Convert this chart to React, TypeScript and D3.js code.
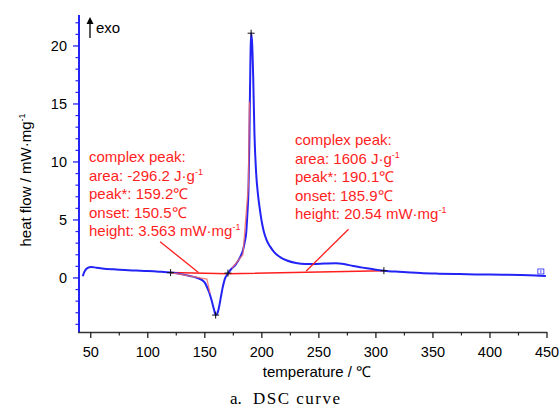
import React from 'react';
import * as d3 from 'd3';

// DSC curve, temperature (°C) vs heat flow (mW/mg)
const temps = [43, 44.5, 47, 50.5, 55, 60, 70, 80, 90, 100, 110, 120, 128, 137, 143, 147.3, 150, 152, 154, 156,
  158, 159.5, 161, 162.5, 164, 165.5, 167.5, 170, 173, 177, 181, 183.5, 185, 186.3, 187.3, 188.3, 189.1, 189.6,
  190.1, 190.6, 191.5, 192.5, 193.5, 195, 196.5, 198, 200, 201.5, 204, 207.3, 211, 216, 222, 230, 238, 245, 255,
  265, 272, 280, 286, 292, 300, 307, 317, 327, 339, 355, 370, 380, 400, 427, 440, 449];
const heatFlow = [0.15, 0.55, 0.85, 0.95, 0.88, 0.82, 0.74, 0.68, 0.64, 0.6, 0.54, 0.46, 0.35, 0.17, 0.02, -0.17,
  -0.4, -0.8, -1.3, -1.95, -2.7, -3.2, -3.05, -2.5, -1.7, -0.9, -0.1, 0.35, 0.75, 1.15, 1.8, 2.4, 3.1, 3.9, 5.5,
  7.6, 11.9, 16, 19.5, 21.1, 20.2, 17, 12.5, 9.05, 7.3, 6.1, 4.8, 4.1, 3.3, 2.7, 2.2, 1.8, 1.5, 1.28, 1.2, 1.2,
  1.24, 1.27, 1.2, 1.03, 0.93, 0.83, 0.71, 0.63, 0.55, 0.49, 0.42, 0.37, 0.34, 0.32, 0.29, 0.26, 0.22, 0.17];

// evaluation lines drawn by the instrument software
const baselineT = [120, 170.3, 307];
const baselineH = [0.47, 0.36, 0.62];
const endoTangentT = [120, 151.8, 154.6];
const endoTangentH = [0.46, -0.1, -1.3];
const exoTangentT = [173.7, 183.4, 188.2, 189.1];
const exoTangentH = [0.83, 2.0, 8, 15.2];
const markerT = [120, 170.3, 159.5, 190.6, 307];
const markerH = [0.46, 0.42, -3.2, 21.1, 0.63];

// leader lines from the labels to the baseline
const endoLeaderT = [110.8, 144.4];
const endoLeaderH = [3.13, 0.46];
const exoLeaderT = [276, 238.9];
const exoLeaderH = [4.2, 0.6];

const endoLabel = ['complex peak:', 'area: -296.2 J·g', 'peak*: 159.2℃', 'onset: 150.5℃', 'height: 3.563 mW·mg'];
const exoLabel = ['complex peak:', 'area: 1606 J·g', 'peak*: 190.1℃', 'onset: 185.9℃', 'height: 20.54 mW·mg'];
const supLines = [1, 4]; // lines that end with a "-1" exponent

const xMajor = [50, 100, 150, 200, 250, 300, 350, 400, 450];
const yMajor = [0, 5, 10, 15, 20];

const W = 560, H = 409;
const blue = '#2323f5';
const red = '#ff1e1e';
const sans = '"Liberation Sans", Arial, sans-serif';

export default function App() {
  const x = d3.scaleLinear().domain([39.7, 450]).range([79, 547]);
  const y = d3.scaleLinear().domain([-4.66, 22.67]).range([332, 15]);

  const pts = temps.map((t, i) => [t, heatFlow[i]] as [number, number]);
  const line = d3.line<[number, number]>().x(d => x(d[0])).y(d => y(d[1]));
  const curve = d3.line<[number, number]>().x(d => x(d[0])).y(d => y(d[1])).curve(d3.curveMonotoneX);
  const zip = (a: number[], b: number[]) => a.map((v, i) => [v, b[i]] as [number, number]);

  const xMinor = d3.range(75, 450, 50);
  const yMinor = d3.range(-4, 23, 1).filter(v => v % 5 !== 0);
  const last = pts[pts.length - 1];

  const label = (lines: string[], x0: number, y0: number) => (
    <text fontFamily={sans} fontSize={15} fill={red}>
      {lines.map((s, i) => (
        <tspan key={i} x={x0} y={y0 + i * 18.5}>
          {s}
          {supLines.includes(i) && <tspan dy={-6} fontSize={9}>-1</tspan>}
        </tspan>
      ))}
    </text>
  );

  return (
    <svg width={W} height={H} style={{ position: 'absolute', left: 0, top: 0, background: '#fff' }}>
      {/* y axis */}
      <line x1={79} x2={79} y1={15} y2={332} stroke={blue} strokeWidth={2} />
      {yMajor.map(v => (
        <g key={v}>
          <line x1={73} x2={79} y1={y(v)} y2={y(v)} stroke={blue} strokeWidth={1.3} />
          <text x={67} y={y(v)} dy="0.35em" textAnchor="end" fontFamily={sans} fontSize={14.5}>{v}</text>
        </g>
      ))}
      {yMinor.map(v => <line key={v} x1={75.5} x2={79} y1={y(v)} y2={y(v)} stroke={blue} strokeWidth={1.2} />)}

      {/* x axis */}
      <line x1={78} x2={547} y1={332.5} y2={332.5} stroke="#333" strokeWidth={1.5} />
      {xMajor.map(v => (
        <g key={v}>
          <line x1={x(v)} x2={x(v)} y1={332} y2={338} stroke="#222" strokeWidth={1.3} />
          <text x={x(v)} y={357} textAnchor="middle" fontFamily={sans} fontSize={14.5}>{v}</text>
        </g>
      ))}
      {xMinor.map(v => <line key={v} x1={x(v)} x2={x(v)} y1={332} y2={335.5} stroke="#222" strokeWidth={1.2} />)}

      <text x={317} y={377} textAnchor="middle" fontFamily={sans} fontSize={15}>temperature / ℃</text>
      <text transform="translate(31,180) rotate(-90)" textAnchor="middle" fontFamily={sans} fontSize={15}>
        heat flow / mW·mg<tspan dy={-6} fontSize={9}>-1</tspan>
      </text>

      {/* exo arrow */}
      <line x1={90} x2={90} y1={21} y2={38} stroke="#000" strokeWidth={1.3} />
      <path d="M86.5,24 L90,17 L93.5,24 Z" fill="#000" />
      <text x={96} y={33} fontFamily={sans} fontSize={15}>exo</text>

      {/* baseline + tangent construction */}
      <path d={line(zip(baselineT, baselineH)) || ''} fill="none" stroke={red} strokeWidth={1.3} />
      <path d={curve(pts) || ''} fill="none" stroke={blue} strokeWidth={2} />
      <path d={line(zip(endoTangentT, endoTangentH)) || ''} fill="none" stroke="#f26a6a" strokeWidth={1.3} opacity={0.85} />
      <path d={line(zip(exoTangentT, exoTangentH)) || ''} fill="none" stroke="#f26a6a" strokeWidth={1.3} opacity={0.85} />

      {/* leader lines */}
      <path d={line(zip(endoLeaderT, endoLeaderH)) || ''} fill="none" stroke={red} strokeWidth={1.3} />
      <path d={line(zip(exoLeaderT, exoLeaderH)) || ''} fill="none" stroke={red} strokeWidth={1.3} />

      {/* evaluation markers */}
      {markerT.map((t, i) => (
        <path key={i} d={`M${x(t) - 3.5},${y(markerH[i])}h7M${x(t)},${y(markerH[i]) - 3.5}v7`} stroke="#111" strokeWidth={1} />
      ))}
      <rect x={x(last[0]) - 8} y={y(last[1]) - 7} width={6} height={5} fill="none" stroke={blue} strokeWidth={0.8} />
      <line x1={x(last[0]) - 5} x2={x(last[0]) - 5} y1={y(last[1]) - 6} y2={y(last[1]) - 3} stroke={blue} strokeWidth={0.8} />

      {label(endoLabel, 89, 162)}
      {label(exoLabel, 295, 145)}

      {/* figure caption */}
      <text x={230} y={404} fontFamily='"Liberation Serif", serif' fontSize={17}>a.</text>
      <text x={253} y={404} fontFamily='"Liberation Serif", serif' fontSize={17} letterSpacing={1.5}>DSC curve</text>
    </svg>
  );
}
